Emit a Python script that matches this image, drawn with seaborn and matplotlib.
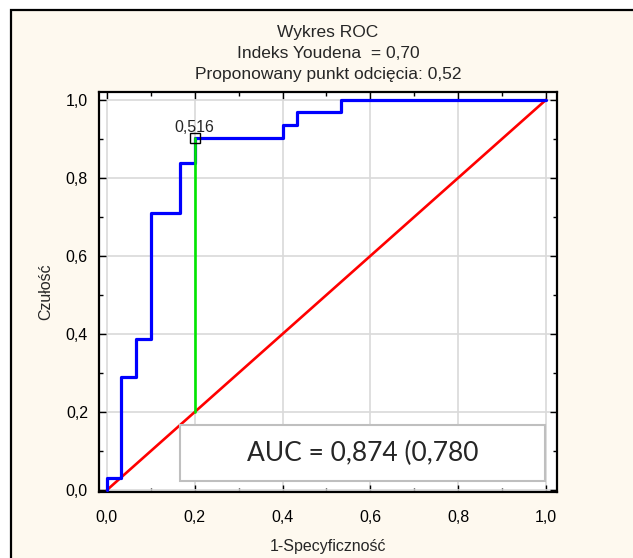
import matplotlib
matplotlib.use("Agg")
import matplotlib.pyplot as plt
import seaborn as sns
import pandas as pd
from matplotlib.patches import Rectangle
from matplotlib.ticker import MultipleLocator

# ROC curve points (corners included)
fpr = [0, 0, 0.033, 0.033, 0.067, 0.067, 0.1, 0.1, 0.167, 0.167, 0.2, 0.2,
       0.4, 0.4, 0.433, 0.433, 0.533, 0.533, 1.0]
tpr = [0, 0.032, 0.032, 0.29, 0.29, 0.387, 0.387, 0.71, 0.71, 0.839, 0.839,
       0.903, 0.903, 0.935, 0.935, 0.968, 0.968, 1.0, 1.0]
diag = [0, 1]
cut_x = [0.2, 0.2]
cut_y = [0.2, 0.903]
cut_label = "0,516"
title_lines = ["Wykres ROC", "Indeks Youdena  = 0,70",
               "Proponowany punkt odcięcia: 0,52"]
auc_text = "AUC = 0,874 (0,780"

sns.set_style("ticks")
plt.rcParams["font.family"] = ["Liberation Sans", "DejaVu Sans"]

cream = "#fef9ef"
fig = plt.figure(figsize=(6.33, 5.58), dpi=100, facecolor="white")
# cream panel with black frame on top / left
fig.patches.append(Rectangle((11 / 633, -0.1), 1.2, 1.1 - 10 / 558,
                             transform=fig.transFigure, facecolor=cream,
                             edgecolor="black", lw=1.6, zorder=-10))

ax = fig.add_axes([99 / 633, 1 - 492 / 558, (557 - 99) / 633, (492 - 92) / 558])
ax.set_facecolor("white")

df = pd.DataFrame({"fpr": fpr, "tpr": tpr})
sns.lineplot(data=df, x="fpr", y="tpr", sort=False, estimator=None,
             color="#0000ff", lw=2.3, ax=ax, zorder=3)
sns.lineplot(x=diag, y=diag, color="#ff0000", lw=1.9, ax=ax, zorder=2)
sns.lineplot(x=cut_x, y=cut_y, sort=False, estimator=None,
             color="#00e600", lw=1.9, ax=ax, zorder=4)
ax.plot(cut_x[1], cut_y[1], marker="s", ms=6.5, mfc="none", mec="black",
        mew=1.0, zorder=5)
ax.text(cut_x[1], cut_y[1] + 0.006, cut_label, ha="center", va="bottom",
        fontsize=11.5, zorder=6)

ax.set_xlim(-0.018, 1.025)
ax.set_ylim(-0.005, 1.02)
fmt = plt.FuncFormatter(lambda v, p: f"{v:.1f}".replace(".", ","))
for a in (ax.xaxis, ax.yaxis):
    a.set_major_locator(MultipleLocator(0.2))
    a.set_minor_locator(MultipleLocator(0.1))
    a.set_major_formatter(fmt)
ax.tick_params(which="both", direction="in", top=True, right=True,
               colors="black", width=1.0)
ax.tick_params(which="major", length=5, labelsize=11.5)
ax.tick_params(which="minor", length=3)
ax.tick_params(axis="x", which="major", pad=13)
ax.tick_params(axis="y", which="major", pad=8)
ax.grid(True, which="major", color="#d9d9d9", lw=1.2, zorder=0)
ax.set_axisbelow(True)
for s in ax.spines.values():
    s.set_color("black")
    s.set_linewidth(1.6)

ax.set_xlabel("1-Specyficzność", fontsize=11.5, labelpad=10)
ax.set_ylabel("Czułość", fontsize=11.5, labelpad=9)

# AUC box
ax.add_patch(Rectangle((0.166, 0.023), 0.832, 0.144, facecolor="white",
                       edgecolor="#bfbfbf", lw=1.5, zorder=7))
ax.text(0.582, 0.095, auc_text, ha="center", va="center", fontsize=19,
        family=["Lato", "DejaVu Sans"], zorder=8)

for txt, y in zip(title_lines, [32, 53, 74]):
    fig.text(328 / 633, 1 - y / 558, txt, ha="center", va="center",
             fontsize=12.5)

fig.savefig("out.png", dpi=100, facecolor="white")
